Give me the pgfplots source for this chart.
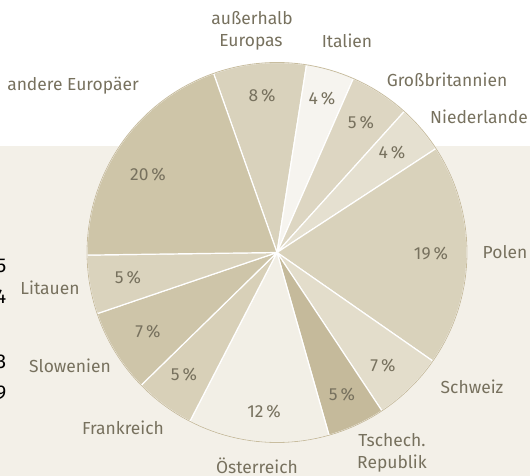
\documentclass[border=0pt]{standalone}
\usepackage{pgfplots}
\pgfplotsset{compat=1.18}
\usepackage{fontspec}
\setmainfont{Fira Sans}
\definecolor{bgc}{HTML}{F3F0E8}
\definecolor{rim}{HTML}{C8BD9F}
\definecolor{txt}{HTML}{77715E}
\definecolor{cOut}{HTML}{D9D2BC}
\definecolor{cIta}{HTML}{F6F4EF}
\definecolor{cGB}{HTML}{DDD6C2}
\definecolor{cNL}{HTML}{E5E0D0}
\definecolor{cPol}{HTML}{D9D2BB}
\definecolor{cSch}{HTML}{E3DDCB}
\definecolor{cTsc}{HTML}{C5BA9B}
\definecolor{cOst}{HTML}{F2EFE6}
\definecolor{cFra}{HTML}{D8D0B8}
\definecolor{cSlo}{HTML}{CEC5A9}
\definecolor{cLit}{HTML}{DAD3BD}
\definecolor{cAnd}{HTML}{CEC5A8}
\tikzset{lbl/.style={font=\fontsize{17.5}{20}\selectfont, text=txt, inner sep=0pt, anchor=base}}
\begin{document}
\begin{tikzpicture}
\begin{axis}[at={(0,0)}, anchor=south west, width=530bp, height=476bp, scale only axis,
  xmin=0, xmax=530, ymin=0, ymax=476, y dir=reverse, hide axis, clip=true]
\fill[bgc] (axis cs:0,146) rectangle (axis cs:530,476);
% shares (percent of the circle), clockwise from "ausserhalb Europas"
\gdef\cum{109.5}
\foreach \v/\c in {7.9/cOut, 4.1/cIta, 5.1/cGB, 4.1/cNL, 18.9/cPol, 6.0/cSch, 4.9/cTsc, 12.0/cOst, 5.1/cFra, 7.1/cSlo, 5.0/cLit, 19.8/cAnd}{
  \pgfmathsetmacro\sa{\cum}
  \pgfmathsetmacro\sb{\cum-3.6*\v}
  \edef\tmp{\noexpand\addplot[fill=\c, draw=white, line width=1.2pt, line join=round, forget plot, domain=\sb:\sa, samples=60, variable=\noexpand\t] ({277+190*cos(\noexpand\t)},{252.5-190*sin(\noexpand\t)}) -- (axis cs:277,252.5) -- cycle;}
  \tmp
  \xdef\cum{\sb}
}
\addplot[draw=rim, line width=0.8pt, domain=0:360, samples=181, variable=\t, forget plot] ({277+190*cos(t)},{252.5-190*sin(t)});
% category labels
\node[lbl] at (axis cs:252,25) {außerhalb};
\node[lbl] at (axis cs:251,47) {Europas};
\node[lbl] at (axis cs:347,48) {Italien};
\node[lbl] at (axis cs:447,87) {Großbritannien};
\node[lbl] at (axis cs:479,123) {Niederlande};
\node[lbl] at (axis cs:505,258) {Polen};
\node[lbl] at (axis cs:472,393) {Schweiz};
\node[lbl] at (axis cs:392,446) {Tschech.};
\node[lbl] at (axis cs:392,468) {Republik};
\node[lbl] at (axis cs:257,473) {Österreich};
\node[lbl] at (axis cs:123,434) {Frankreich};
\node[lbl] at (axis cs:70,372) {Slowenien};
\node[lbl] at (axis cs:50,294) {Litauen};
\node[lbl] at (axis cs:73,91) {andere Europäer};
% percentages
\node[lbl] at (axis cs:262,101) {8\,\%};
\node[lbl] at (axis cs:322,104) {4\,\%};
\node[lbl] at (axis cs:361,128) {5\,\%};
\node[lbl] at (axis cs:392,158) {4\,\%};
\node[lbl] at (axis cs:431,259) {19\,\%};
\node[lbl] at (axis cs:383,371) {7\,\%};
\node[lbl] at (axis cs:342,400) {5\,\%};
\node[lbl] at (axis cs:264,417) {12\,\%};
\node[lbl] at (axis cs:184,380) {5\,\%};
\node[lbl] at (axis cs:148,337) {7\,\%};
\node[lbl] at (axis cs:128,283) {5\,\%};
\node[lbl] at (axis cs:148,180) {20\,\%};
% cropped digits at the left edge
\node[lbl, font=\fontsize{20}{22}\selectfont, text=black, anchor=base east] at (axis cs:6.5,272) {5};
\node[lbl, font=\fontsize{20}{22}\selectfont, text=black, anchor=base east] at (axis cs:6.5,303) {4};
\node[lbl, font=\fontsize{20}{22}\selectfont, text=black, anchor=base east] at (axis cs:6.5,368) {3};
\node[lbl, font=\fontsize{20}{22}\selectfont, text=black, anchor=base east] at (axis cs:6.5,399) {9};
\end{axis}
\pgfresetboundingbox
\path[use as bounding box] (0,0) rectangle (530bp,476bp);
\end{tikzpicture}
\end{document}
